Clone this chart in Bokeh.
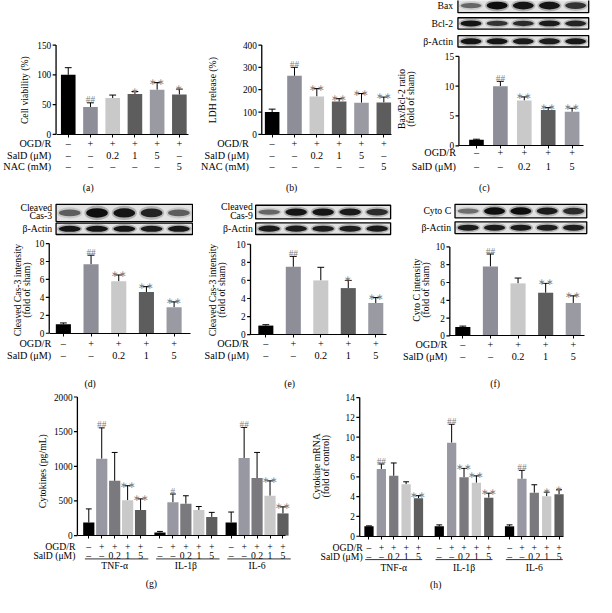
import numpy as np
from bokeh.plotting import figure
from bokeh.models import (ColumnDataSource, Whisker, TeeHead, FixedTicker, Range1d)
from bokeh.layouts import column, row
from bokeh.embed import file_html
from bokeh.resources import INLINE
from bokeh.core.properties import value

S = 596 / 612
FONT = "Liberation Serif"
SIG = "#7c7c7c"

# ---------------- data ----------------
ab_ogd = ["–", "+", "+", "+", "+", "+"]
ab_sald = ["–", "–", "0.2", "1", "5", "–"]
ab_nac = ["–", "–", "–", "–", "–", "5"]
cf_ogd = ["–", "+", "+", "+", "+"]
cf_sald = ["–", "–", "0.2", "1", "5"]

a_val = [100, 46, 61, 68, 75, 67]
a_err = [12, 7, 5, 4, 12, 9]
a_sig = ["", "##", "", "*", "**", "*"]
a_ticks = [0, 50, 100, 150]

b_val = [100, 262, 170, 147, 142, 143]
b_err = [13, 38, 35, 13, 41, 24]
b_sig = ["", "##", "**", "**", "**", "**"]
b_ticks = [0, 100, 200, 300, 400]

c_val = [1.0, 10.0, 7.6, 6.0, 5.7]
c_err = [0.1, 0.8, 0.6, 0.4, 0.6]
c_sig = ["", "##", "**", "**", "**"]
c_ticks = [0, 5, 10, 15]
c_bax = [0.45, 1.0, 0.95, 0.95, 0.75]
c_bcl2 = [0.95, 0.75, 0.8, 0.9, 0.85]
c_actin = [0.95, 0.95, 0.9, 0.88, 0.92]

d_val = [1.0, 7.7, 5.8, 4.6, 2.9]
d_err = [0.15, 1.0, 0.7, 0.6, 0.6]
d_sig = ["", "##", "**", "**", "**"]
d_cas3 = [0.5, 1.0, 0.95, 0.85, 0.5]
d_actin = [0.95, 0.95, 0.95, 0.9, 0.92]

e_val = [1.0, 7.5, 6.0, 5.15, 3.5]
e_err = [0.1, 1.15, 1.45, 0.85, 0.6]
e_sig = ["", "##", "", "*", "**"]
e_cas9 = [0.45, 0.95, 0.95, 0.9, 0.8]
e_actin = [0.9, 0.9, 0.88, 0.88, 0.9]

f_val = [1.0, 7.8, 5.9, 4.85, 3.7]
f_err = [0.1, 1.4, 0.6, 1.05, 0.8]
f_sig = ["", "##", "", "**", "**"]
f_cytoc = [0.4, 1.0, 1.0, 0.9, 0.8]
f_actin = [0.9, 0.9, 0.9, 0.88, 0.88]
def_ticks = [0, 2, 4, 6, 8, 10]

cytokines = ["TNF-α", "IL-1β", "IL-6"]
g_val = [[190, 1110, 790, 510, 370], [45, 480, 460, 370, 270], [190, 1120, 830, 575, 320]]
g_err = [[195, 445, 410, 210, 160], [15, 120, 115, 50, 65], [150, 440, 370, 215, 95]]
g_sig = [["", "##", "", "**", "**"], ["", "#", "", "", ""], ["", "##", "", "**", "**"]]
g_ticks = [0, 500, 1000, 1500, 2000]

h_val = [[1.0, 6.8, 6.1, 5.25, 3.85], [1.0, 9.45, 5.95, 5.4, 3.9], [1.0, 5.8, 4.4, 4.05, 4.25]]
h_err = [[0.05, 0.5, 1.3, 0.25, 0.25], [0.15, 1.85, 0.9, 0.7, 0.45], [0.15, 0.85, 0.8, 0.4, 0.45]]
h_sig = [["", "##", "", "", "**"], ["", "##", "**", "**", "**"], ["", "##", "", "*", "*"]]
h_ticks = [0, 2, 4, 6, 8, 10, 12, 14]

ab_colors = ["#000000", "#8e8e98", "#c9c9c9", "#5d5d5d", "#9a9aa2", "#5d5d5d"]
cf_colors = ["#000000", "#8e8e98", "#c9c9c9", "#5d5d5d", "#9a9aa2"]
gh_colors = ["#000000", "#9898a2", "#7a7a7e", "#c9c9c9", "#5e5e5e"]

TABLE_FS = 10.5
TICK_FS = 9.5
LABEL_FS = 10
AB_ROWS = ["OGD/R", "SalD (μM)", "NAC (mM)"]
CF_ROWS = ["OGD/R", "SalD (μM)"]


def fs(px):
    return f"{px * S:.1f}px"


def make_panel(bbox, px0, dxp, py0, dyp):
    x0, y0, w, h = bbox
    W = round((x0 + w) * S) - round(x0 * S)
    H = round((y0 + h) * S) - round(y0 * S)
    p = figure(width=W, height=H, title=None, tools="",
               x_range=Range1d((x0 - px0) / dxp, (x0 + w - px0) / dxp),
               y_range=Range1d((py0 - (y0 + h)) / dyp, (py0 - y0) / dyp),
               output_backend="svg", toolbar_location=None, min_border=0,
               outline_line_color=None)
    p.grid.visible = False
    X = lambda px: float((px - px0) / dxp)
    Y = lambda py: float((py0 - py) / dyp)
    return p, X, Y


def style_axes(p, X, Y, py0, yaxis_px, xend_px, yticks, xticks):
    xl = X(yaxis_px)
    # value axis: rule, ticks and labels drawn on the plot's own scales
    p.yaxis.visible = False
    p.line(x=[xl, xl], y=[yticks[0], yticks[-1]], line_color="black", line_width=1.3)
    tk = X(yaxis_px - 3.5)
    p.multi_line(xs=[[xl, tk] for _ in yticks], ys=[[float(t), float(t)] for t in yticks],
                 line_color="black", line_width=1.2)
    p.text(x=[X(yaxis_px - 5)] * len(yticks), y=[float(t) for t in yticks],
           text=[str(t) for t in yticks], text_align="right", text_baseline="middle",
           text_font=value(FONT), text_font_size=fs(TICK_FS), text_color="black")
    # category axis
    xa = p.xaxis[0]
    xa.fixed_location = 0
    xa.bounds = (xl, X(xend_px))
    xa.ticker = FixedTicker(ticks=[float(t) for t in xticks], minor_ticks=[])
    xa.major_tick_out = 3
    xa.major_tick_in = 0
    xa.minor_tick_line_color = None
    xa.axis_line_color = "black"
    xa.major_tick_line_color = "black"
    xa.major_label_text_color = None


def draw_bars(p, xs, vals, errs, sigs, colors, bw, cap):
    xs = np.asarray(xs, dtype=float)
    vals = np.asarray(vals, dtype=float)
    errs = np.asarray(errs, dtype=float)
    src = ColumnDataSource(dict(x=xs, top=vals, up=vals + errs, color=list(colors)))
    p.vbar(x="x", top="top", width=bw, fill_color="color", line_color=None, source=src)
    p.add_layout(Whisker(source=src, base="x", lower="top", upper="up", dimension="height",
                         line_color="black", line_width=1, lower_head=None,
                         upper_head=TeeHead(size=cap * S, line_color="black", line_width=1)))
    idx = [i for i, s in enumerate(sigs) if s]
    if idx:
        marks = [sigs[i].replace("*", "∗") for i in idx]
        offs = [(-2.5 if sigs[i].startswith("#") else -1.0) * S for i in idx]
        p.text(x=xs[idx], y=(vals + errs)[idx], text=marks, y_offset=offs,
               text_align="center", text_baseline="alphabetic",
               text_font=value(FONT), text_font_size=fs(9.5), text_color=SIG)


def txt(p, x, y, s, size=LABEL_FS, align="center", angle=0.0, color="black", baseline="middle"):
    p.text(x=[x], y=[y], text=[s], text_align=align, text_baseline=baseline, angle=angle,
           text_font=value(FONT), text_font_size=fs(size), text_color=color)


def draw_table(p, X, Y, xs, rows, row_pys, label_px, labels, size=TABLE_FS):
    for vals, py, lab in zip(rows, row_pys, labels):
        p.text(x=[float(v) for v in xs], y=[Y(py)] * len(xs), text=list(vals),
               text_align="center", text_baseline="middle", text_font=value(FONT),
               text_font_size=fs(size), text_color="black")
        if lab:
            txt(p, X(label_px), Y(py), lab, size=size, align="right")


def draw_blot(p, X, Y, l, r, t, b, intens):
    p.quad(left=X(l), right=X(r), top=Y(t), bottom=Y(b), fill_color="#e2e2e2",
           line_color="black", line_width=1.3)
    inten = np.asarray(intens, dtype=float)
    n = len(inten)
    lw = (r - l) / n
    cx = [X(l + (i + 0.5) * lw) for i in range(n)]
    cy = [Y((t + b) / 2)] * n
    sh = b - t
    wx = X(l + lw * 0.92) - X(l)
    p.ellipse(x=cx, y=cy, width=[wx] * n,
              height=[Y(t) - Y(t + sh * (0.45 + 0.4 * v)) for v in inten],
              fill_color="#333333", fill_alpha=[0.3 * v for v in inten], line_color=None)
    wx2 = X(l + lw * 0.8) - X(l)
    p.ellipse(x=cx, y=cy, width=[wx2] * n,
              height=[Y(t) - Y(t + sh * (0.25 + 0.3 * v)) for v in inten],
              fill_color="#050505", fill_alpha=[0.15 + 0.8 * v for v in inten], line_color=None)


def simple_panel(bbox, px0, dxp, py0, dyp, yaxis_px, xend_px, ticks, vals, errs, sigs, colors,
                 bw_px, rows, rows_py, label_px, row_labels, ylabels, letter, letter_pos):
    p, X, Y = make_panel(bbox, px0, dxp, py0, dyp)
    xs = np.arange(len(vals))
    draw_bars(p, xs, vals, errs, sigs, colors, bw_px / dxp, 7)
    style_axes(p, X, Y, py0, yaxis_px, xend_px, ticks, xs)
    draw_table(p, X, Y, xs, rows, rows_py, label_px, row_labels)
    for px, py, s in ylabels:
        txt(p, X(px), Y(py), s, angle=np.pi / 2)
    txt(p, X(letter_pos[0]), Y(letter_pos[1]), letter)
    return p, X, Y


pa, Xa, Ya = simple_panel((0, 0, 198, 200), 69.5, 22.8, 137.3, 91.6 / 150, 57, 193, a_ticks,
                          a_val, a_err, a_sig, ab_colors, 15, [ab_ogd, ab_sald, ab_nac],
                          [147, 158.5, 170], 52, AB_ROWS, [(25, 92, "Cell viability (%)")],
                          "(a)", (90, 192))

pb, Xb, Yb = simple_panel((198, 0, 207, 200), 279, 23, 137.3, 91.6 / 400, 268.3, 402, b_ticks,
                          b_val, b_err, b_sig, ab_colors, 15, [ab_ogd, ab_sald, ab_nac],
                          [147, 158.5, 170], 255, AB_ROWS, [(218, 92, "LDH release (%)")],
                          "(b)", (299, 192))

pc, Xc, Yc = simple_panel((405, 0, 207, 200), 489, 24.5, 149, 91.7 / 15, 471, 599, c_ticks,
                          c_val, c_err, c_sig, cf_colors, 15, [cf_ogd, cf_sald],
                          [155.7, 170], 468, CF_ROWS,
                          [(412, 101, "Bax/Bcl-2 ratio"), (421, 101, "(fold of sham)")],
                          "(c)", (497, 192))
draw_blot(pc, Xc, Yc, 470, 604, -2, 12.5, c_bax)
draw_blot(pc, Xc, Yc, 470, 604, 17.7, 29.3, c_bcl2)
draw_blot(pc, Xc, Yc, 470, 604, 36, 47.7, c_actin)
txt(pc, Xc(465), Yc(5.5), "Bax", align="right")
txt(pc, Xc(465), Yc(23.5), "Bcl-2", align="right")
txt(pc, Xc(465), Yc(42), "β-Actin", align="right")

pd_, Xd, Yd = simple_panel((0, 200, 198, 200), 64.5, 28.4, 341.3, 9.2, 50, 195, def_ticks,
                           d_val, d_err, d_sig, cf_colors, 15.5, [cf_ogd, cf_sald],
                           [352, 364], 52, CF_ROWS,
                           [(17.5, 297, "Cleaved Cas-3 intensity"), (27, 297, "(fold of sham)")],
                           "(d)", (92, 393))
draw_blot(pd_, Xd, Yd, 57, 197, 209, 226.7, d_cas3)
draw_blot(pd_, Xd, Yd, 57, 197, 228.3, 240, d_actin)
txt(pd_, Xd(53), Yd(212.7), "Cleaved", align="right")
txt(pd_, Xd(53), Yd(220.7), "Cas-3", align="right")
txt(pd_, Xd(53), Yd(234), "β-Actin", align="right")

pe, Xe, Ye = simple_panel((198, 200, 207, 200), 272.5, 28.3, 342.7, 9.27, 256.7, 396.7, def_ticks,
                          e_val, e_err, e_sig, cf_colors, 15.5, [cf_ogd, cf_sald],
                          [352, 364], 255, CF_ROWS,
                          [(218, 297, "Cleaved Cas-3 intensity"), (227, 297, "(fold of sham)")],
                          "(e)", (297, 393))
draw_blot(pe, Xe, Ye, 262, 401, 210, 224, e_cas9)
draw_blot(pe, Xe, Ye, 262, 401, 228, 240, e_actin)
txt(pe, Xe(259), Ye(211.7), "Cleaved", align="right")
txt(pe, Xe(259), Ye(220), "Cas-9", align="right")
txt(pe, Xe(259), Ye(234.3), "β-Actin", align="right")

pf, Xf, Yf = simple_panel((405, 200, 207, 200), 475, 28.3, 344, 9.13, 461.7, 600, def_ticks,
                          f_val, f_err, f_sig, cf_colors, 15.5, [cf_ogd, cf_sald],
                          [353, 365], 459, CF_ROWS,
                          [(428, 297, "Cyto C intensity"), (437, 297, "(fold of sham)")],
                          "(f)", (508, 393))
draw_blot(pf, Xf, Yf, 467, 602, 209, 223, f_cytoc)
draw_blot(pf, Xf, Yf, 467, 602, 227, 239, f_actin)
txt(pf, Xf(463), Yf(215.5), "Cyto C", align="right")
txt(pf, Xf(463), Yf(233.3), "β-Actin", align="right")


# ---------------- grouped panels g, h ----------------
def grouped(bbox, px0, dxp, py0, dyp, G, yaxis_px, xend_px, ticks, vals, errs, sigs, bw_px,
            rows_py, label_px, line_py, line_ext, glabel_py, ylabels, letter, letter_pos):
    p, X, Y = make_panel(bbox, px0, dxp, py0, dyp)
    allx = np.concatenate([g * G + np.arange(5) for g in range(3)])
    for g in range(3):
        xs = g * G + np.arange(5)
        draw_bars(p, xs, vals[g], errs[g], sigs[g], gh_colors, bw_px / dxp, 6)
        draw_table(p, X, Y, xs, [cf_ogd, cf_sald], rows_py, label_px,
                   CF_ROWS if g == 0 else ["", ""], size=10)
        p.line(x=[g * G + line_ext[0], g * G + line_ext[1]], y=[Y(line_py), Y(line_py)],
               line_color="#333333", line_width=1)
        txt(p, g * G + 2, Y(glabel_py), cytokines[g], size=10)
    style_axes(p, X, Y, py0, yaxis_px, xend_px, ticks, allx)
    for px, py, s in ylabels:
        txt(p, X(px), Y(py), s, angle=np.pi / 2)
    txt(p, X(letter_pos[0]), Y(letter_pos[1]), letter)
    return p


pg = grouped((0, 400, 300, 213), 90.7, 13.3, 549.3, 142.6 / 2000, 5.5, 79, 293, g_ticks,
             g_val, g_err, g_sig, 11.5, [560.7, 569.3], 77, 573.3, (-0.3, 4.6), 580.5,
             [(43, 483, "Cytokines (pg/mL)")], "(g)", (155, 599))
ph = grouped((300, 400, 312, 213), 378.5, 12.7, 550, 142.7 / 14, 5.68, 369, 578, h_ticks,
             h_val, h_err, h_sig, 9.5, [561.7, 571], 372, 574, (-0.3, 4.3), 581.7,
             [(325, 478, "Cytokine mRNA"), (333.5, 478, "(fold of control)")], "(h)", (447, 600))

layout = column(row(pa, pb, pc), row(pd_, pe, pf), row(pg, ph))
open("out.html", "w").write(file_html(layout, INLINE))
